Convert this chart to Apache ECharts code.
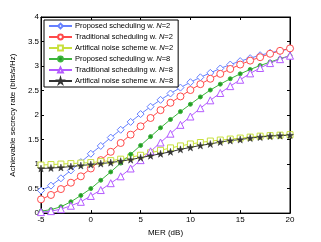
<!DOCTYPE html>
<html><head><meta charset="utf-8">
<script src="https://cdn.jsdelivr.net/npm/echarts@6/dist/echarts.min.js"></script>
<style>html,body{margin:0;padding:0;background:#fff}#c{width:321px;height:242px}</style>
</head><body><div id="c"></div>
<script>
var mer = [-5,-4,-3,-2,-1,0,1,2,3,4,5,6,7,8,9,10,11,12,13,14,15,16,17,18,19,20];
var propN2 = [0.46,0.56,0.71,0.87,1.04,1.21,1.37,1.54,1.70,1.86,2.02,2.17,2.31,2.44,2.56,2.67,2.77,2.86,2.95,3.03,3.10,3.16,3.22,3.27,3.31,3.35];
var tradN2 = [0.28,0.37,0.49,0.62,0.75,0.91,1.08,1.25,1.43,1.60,1.77,1.94,2.10,2.25,2.38,2.51,2.63,2.74,2.84,2.94,3.03,3.11,3.18,3.25,3.31,3.36];
var anN2 = [0.98,0.99,1.00,1.01,1.02,1.03,1.05,1.07,1.10,1.14,1.18,1.23,1.28,1.33,1.37,1.41,1.44,1.47,1.49,1.51,1.53,1.55,1.57,1.58,1.59,1.60];
var propN8 = [0.04,0.07,0.13,0.23,0.36,0.50,0.67,0.84,1.02,1.20,1.38,1.56,1.74,1.91,2.07,2.22,2.37,2.51,2.63,2.74,2.84,2.93,3.01,3.08,3.15,3.21];
var tradN8 = [0.02,0.04,0.08,0.15,0.23,0.35,0.47,0.61,0.75,0.91,1.08,1.26,1.44,1.62,1.80,1.97,2.14,2.30,2.45,2.59,2.72,2.85,2.96,3.06,3.14,3.21];
var anN8 = [0.91,0.92,0.93,0.95,0.97,0.99,1.01,1.03,1.06,1.09,1.13,1.17,1.21,1.25,1.30,1.34,1.38,1.41,1.45,1.48,1.50,1.53,1.55,1.57,1.58,1.59];
var xTicks = [-5,0,5,10,15,20];
var yTicks = [0,0.5,1,1.5,2,2.5,3,3.5,4];
var names = ['Proposed scheduling w. N=2','Traditional scheduling w. N=2','Artifical noise scheme w. N=2','Proposed scheduling w. N=8','Traditional scheduling w. N=8','Artifical noise scheme w. N=8'];

var star = 'path://M50,0 L61,35 L98,35 L68,57 L79,91 L50,70 L21,91 L32,57 L2,35 L39,35 Z';
function pts(arr){ return mer.map(function(x,i){return [x,arr[i]];}); }
function ser(name, data, color, symbol, size, fill){
  return {name:name,type:'line',data:pts(data),symbol:symbol,symbolSize:size,showSymbol:true,
    lineStyle:{color:color,width:1},itemStyle:{color:fill?color:'#fff',borderColor:color,borderWidth:1},
    color:color,animation:false,z:3};
}
var series = [
  ser(names[0],propN2,'#6680ff','diamond',7,false),
  ser(names[1],tradN2,'#ff4a4a','circle',7,false),
  ser(names[2],anN2,'#c8e03c','rect',6,false),
  ser(names[3],propN8,'#3cb43c','circle',4,true),
  ser(names[4],tradN8,'#b45aff','triangle',7,false),
  ser(names[5],anN8,'#333333',star,7,true)
];
series[5].itemStyle = {color:'#333',borderColor:'#333',borderWidth:0.5};
series[3].itemStyle = {color:'#239a23',borderColor:'#3cb43c',borderWidth:1};
var font = 'Liberation Sans, Arial, sans-serif';
var tickX = xTicks, tickY = yTicks;
var chart = echarts.init(document.getElementById('c'));
chart.setOption({
  animation:false,
  backgroundColor:'#fff',
  grid:{left:41,right:31,top:17,bottom:27,show:true,borderColor:'#000',borderWidth:1,backgroundColor:'#fff'},
  legend:{
    data:names,orient:'vertical',left:44,top:20,padding:[2,5,2,4],itemGap:3,itemWidth:23,itemHeight:6,
    backgroundColor:'#fff',borderColor:'#000',borderWidth:1,
    formatter:function(n){var p=n.split('N=');return '{a|'+p[0]+'}{i|N}{a|='+p[1]+'}';},
    textStyle:{fontFamily:font,fontSize:7.5,color:'#000',padding:[0,0,0,-2],
      rich:{a:{fontFamily:font,fontSize:7.5,lineHeight:8,color:'#000'},i:{fontFamily:font,fontSize:7.5,lineHeight:8,fontStyle:'italic',color:'#000'}}}
  },
  xAxis:[{type:'value',min:tickX[0],max:tickX[tickX.length-1],interval:5,name:'MER (dB)',nameLocation:'middle',nameGap:14,
    nameTextStyle:{fontFamily:font,fontSize:8,color:'#000'},
    axisLine:{onZero:false,lineStyle:{color:'#000',width:1}},axisTick:{inside:true,length:3,lineStyle:{color:'#000'}},
    axisLabel:{fontFamily:font,fontSize:8,color:'#000',margin:3},splitLine:{show:false}},
    {type:'value',position:'top',min:tickX[0],max:tickX[tickX.length-1],interval:5,axisLine:{onZero:false,lineStyle:{color:'#000'}},
    axisTick:{inside:true,length:3,lineStyle:{color:'#000'}},axisLabel:{show:false},splitLine:{show:false}}],
  yAxis:[{type:'value',min:tickY[0],max:tickY[tickY.length-1],interval:0.5,name:'Achievable secrecy rate (bits/s/Hz)',nameLocation:'middle',nameGap:16,
    nameTextStyle:{fontFamily:font,fontSize:8,color:'#000'},
    axisLine:{show:true,onZero:false,lineStyle:{color:'#000',width:1}},axisTick:{show:true,inside:true,length:3,lineStyle:{color:'#000'}},
    axisLabel:{fontFamily:font,fontSize:8,color:'#000',margin:2},splitLine:{show:false}},
    {type:'value',position:'right',min:tickY[0],max:tickY[tickY.length-1],interval:0.5,axisLine:{show:true,onZero:false,lineStyle:{color:'#000'}},
    axisTick:{show:true,inside:true,length:3,lineStyle:{color:'#000'}},axisLabel:{show:false},splitLine:{show:false}}],
  series:series
});
</script></body></html>
